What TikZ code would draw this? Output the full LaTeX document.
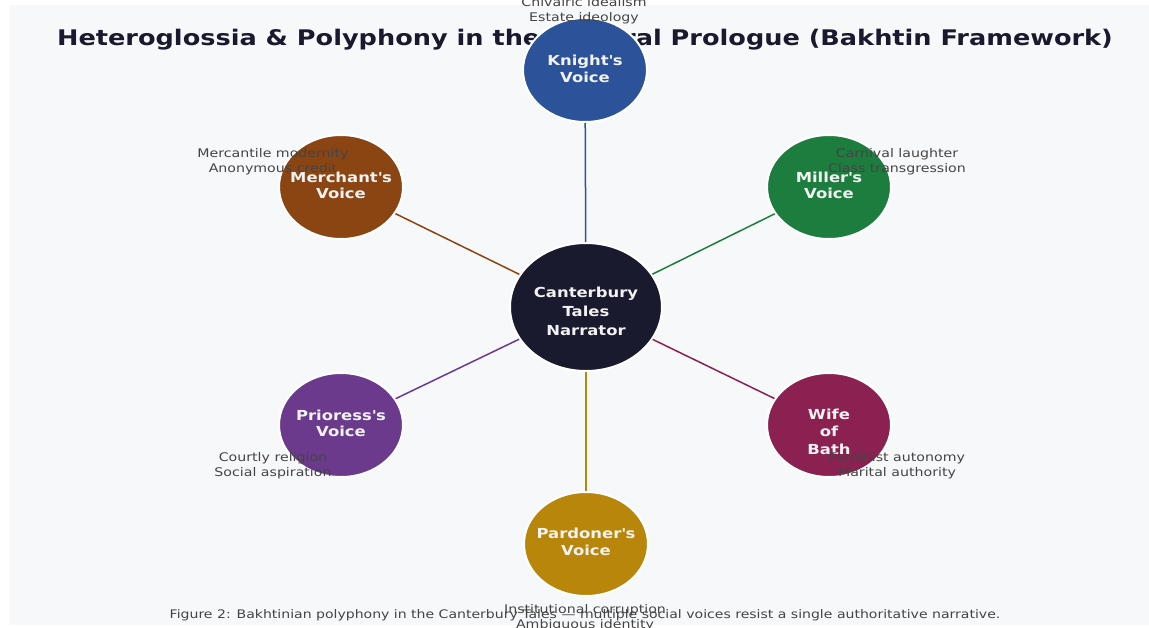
\documentclass[tikz,border=0pt]{standalone}
\usepackage{fontspec}
\setmainfont{DejaVu Sans}[FakeStretch=1.19]
\usetikzlibrary{shapes.geometric}
\definecolor{panel}{HTML}{F7F8FA}
\definecolor{titlec}{HTML}{1A1A2E}
\definecolor{narrc}{HTML}{1A1A2E}
\definecolor{knightc}{HTML}{2C5299}
\definecolor{millerc}{HTML}{1D7D3E}
\definecolor{merchc}{HTML}{8B4513}
\definecolor{priorc}{HTML}{6B3A8C}
\definecolor{wifec}{HTML}{8A2151}
\definecolor{pardc}{HTML}{B8860B}
\definecolor{lblc}{HTML}{444444}
\definecolor{ntxt}{HTML}{F2F2F2}
\newcommand{\apos}{\textquotesingle}
\begin{document}
\begin{tikzpicture}[x=1pt,y=-1pt,
  voice/.style={ellipse, draw=white, line width=2pt, inner sep=0pt,
    minimum width=124pt, minimum height=104pt},
  hub/.style={voice, minimum width=152pt, minimum height=128pt},
  conn/.style={line width=1.5pt},
  ntext/.style={text=ntxt, font=\bfseries\fontsize{13.8}{16}\selectfont, inner sep=0pt, anchor=base},
  ltext/.style={text=lblc, font=\fontsize{11.9}{14}\selectfont, inner sep=0pt, anchor=base},
  ttext/.style={text=titlec, font=\bfseries\fontsize{21.5}{26}\selectfont, inner sep=0pt, anchor=base},
  ctext/.style={text=lblc, font=\fontsize{11.8}{14}\selectfont, inner sep=0pt, anchor=base}]
\useasboundingbox (0,0) rectangle (1149,627);
\fill[white] (0,0) rectangle (1149,627);
\fill[panel] (9,5) rectangle (1149,625);

% title
\node[ttext] (title) at (585,45) {Heteroglossia \& Polyphony in the General Prologue (Bakhtin Framework)};

% nodes
\node[hub, fill=narrc] (narr) at (586,307) {};
\node[voice, fill=knightc] (knight) at (585,70) {};
\node[voice, fill=millerc] (miller) at (829,187) {};
\node[voice, fill=merchc] (merch) at (341,187) {};
\node[voice, fill=priorc] (prior) at (341,425) {};
\node[voice, fill=wifec] (wife) at (829,425) {};
\node[voice, fill=pardc] (pard) at (586,544) {};

% connectors
\draw[conn, draw=knightc] (narr) -- (knight);
\draw[conn, draw=millerc] (narr) -- (miller);
\draw[conn, draw=merchc] (narr) -- (merch);
\draw[conn, draw=priorc] (narr) -- (prior);
\draw[conn, draw=wifec] (narr) -- (wife);
\draw[conn, draw=pardc] (narr) -- (pard);

% node texts
\node[ntext] (narr-1) at (586,297) {Canterbury};
\node[ntext] (narr-2) at (586,316) {Tales};
\node[ntext] (narr-3) at (586,335) {Narrator};
\node[ntext] (knight-1) at (585,65) {Knight\apos s};
\node[ntext] (knight-2) at (585,82) {Voice};
\node[ntext] (miller-1) at (829,182) {Miller\apos s};
\node[ntext] (miller-2) at (829,198.5) {Voice};
\node[ntext] (merch-1) at (341,182) {Merchant\apos s};
\node[ntext] (merch-2) at (341,198.5) {Voice};
\node[ntext] (prior-1) at (341,420) {Prioress\apos s};
\node[ntext] (prior-2) at (341,436.5) {Voice};
\node[ntext] (wife-1) at (829,419.3) {Wife};
\node[ntext] (wife-2) at (829,436.6) {of};
\node[ntext] (wife-3) at (829,454) {Bath};
\node[ntext] (pard-1) at (586,538) {Pardoner\apos s};
\node[ntext] (pard-2) at (586,555) {Voice};

% annotations
\node[ltext] (kl-1) at (584,6) {Chivalric idealism};
\node[ltext] (kl-2) at (584,21) {Estate ideology};
\node[ltext] (ml-1) at (273,157) {Mercantile modernity};
\node[ltext] (ml-2) at (273,172) {Anonymous credit};
\node[ltext] (il-1) at (897,157) {Carnival laughter};
\node[ltext] (il-2) at (897,172) {Class transgression};
\node[ltext] (pl-1) at (273,461) {Courtly religion};
\node[ltext] (pl-2) at (273,476) {Social aspiration};
\node[ltext] (wl-1) at (897,461) {Feminist autonomy};
\node[ltext] (wl-2) at (897,476) {Marital authority};

% caption
\node[ctext] (caption) at (585,618) {Figure 2: Bakhtinian polyphony in the Canterbury Tales — multiple social voices resist a single authoritative narrative.};

\node[ltext] (dl-1) at (585,613) {Institutional corruption};
\node[ltext] (dl-2) at (585,628.5) {Ambiguous identity};
\end{tikzpicture}
\end{document}
